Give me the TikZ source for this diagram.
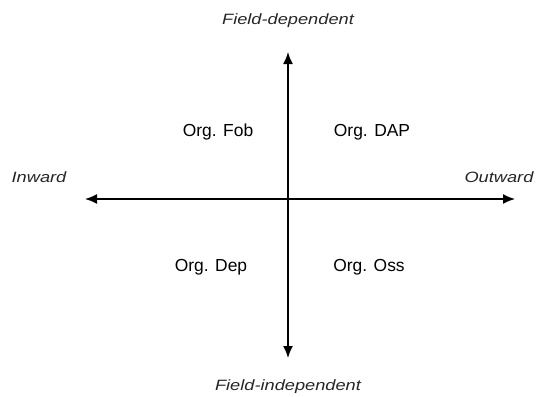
\documentclass[tikz,border=0pt]{standalone}
\usepackage{fontspec}
\setmainfont{Liberation Sans}
\usetikzlibrary{arrows.meta}

\newcommand{\widetext}[1]{\scalebox{1.22}[1]{#1}}

\begin{document}
\begin{tikzpicture}[
  x=1bp, y=-1bp,
  quad/.style={font=\fontsize{17.5}{19}\selectfont, inner sep=0pt},
  axislabel/.style={font=\fontsize{15}{17}\selectfont\itshape, inner sep=0pt, text=black!85},
  axis/.style={line width=1.6bp, {Latex[length=12bp,width=10bp]}-{Latex[length=12bp,width=10bp]}}
]
\useasboundingbox (0,0) rectangle (536,396);

% axis ends
\coordinate (west) at (85,199);
\coordinate (east) at (515,199);
\coordinate (north) at (288,52);
\coordinate (south) at (288,358);

\draw[axis] (west) -- (east);
\draw[axis] (north) -- (south);

% axis labels
\node[axislabel] (fdep) at (288,21) {\widetext{Field-dependent}};
\node[axislabel] (findep) at (288,387) {\widetext{Field-independent}};
\node[axislabel] (inward) at (39,177) {\widetext{Inward}};
\node[axislabel] (outward) at (499,177) {\widetext{Outward}};

% quadrants
\node[quad] (fob) at (218,132) {Org. Fob};
\node[quad] (dap) at (372,132) {Org. DAP};
\node[quad] (dep) at (211,267) {Org. Dep};
\node[quad] (oss) at (369,267) {Org. Oss};

\end{tikzpicture}
\end{document}
